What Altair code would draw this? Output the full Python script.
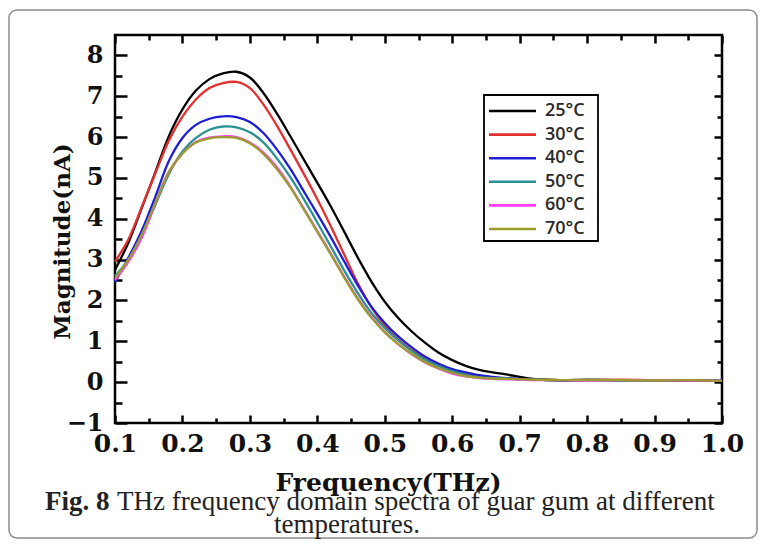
import altair as alt
import pandas as pd

# ---------------- data ----------------
freq = [0.10, 0.12, 0.14, 0.16, 0.18, 0.20, 0.22, 0.24, 0.26, 0.28,
        0.30, 0.32, 0.34, 0.36, 0.38, 0.40, 0.42, 0.44, 0.46, 0.48,
        0.50, 0.52, 0.54, 0.56, 0.58, 0.60, 0.62, 0.64, 0.66, 0.68,
        0.70, 0.72, 0.76, 0.80, 0.85, 0.90, 0.95, 1.00]

series_labels = ["25°C", "30°C", "40°C", "50°C", "60°C", "70°C"]
series_colors = ["#000000", "#e3302e", "#1e1ed8", "#2b9292", "#ff3cff", "#9c9c2a"]

mag_25 = [2.75, 3.42, 4.28, 5.15, 6.03, 6.68, 7.14, 7.42, 7.56, 7.60,
          7.46, 7.08, 6.58, 6.02, 5.45, 4.88, 4.30, 3.68, 3.05, 2.47,
          1.97, 1.57, 1.24, 0.96, 0.72, 0.54, 0.40, 0.30, 0.24, 0.19,
          0.13, 0.08, 0.05, 0.06, 0.05, 0.05, 0.04, 0.03]
mag_30 = [2.95, 3.50, 4.30, 5.12, 5.92, 6.50, 6.92, 7.20, 7.32, 7.35,
          7.20, 6.80, 6.28, 5.70, 5.10, 4.48, 3.82, 3.12, 2.42, 1.84,
          1.39, 1.04, 0.78, 0.57, 0.40, 0.28, 0.19, 0.14, 0.11, 0.09,
          0.07, 0.06, 0.05, 0.05, 0.06, 0.05, 0.05, 0.03]
mag_40 = [2.45, 3.05, 3.72, 4.55, 5.42, 5.98, 6.30, 6.45, 6.51, 6.49,
          6.37, 6.10, 5.70, 5.22, 4.67, 4.12, 3.55, 2.95, 2.37, 1.85,
          1.45, 1.12, 0.85, 0.62, 0.45, 0.32, 0.24, 0.17, 0.13, 0.10,
          0.08, 0.06, 0.04, 0.05, 0.05, 0.04, 0.05, 0.03]
mag_50 = [2.60, 3.00, 3.60, 4.35, 5.10, 5.65, 5.98, 6.18, 6.26, 6.24,
          6.12, 5.87, 5.48, 5.02, 4.48, 3.91, 3.32, 2.73, 2.18, 1.70,
          1.33, 1.02, 0.76, 0.55, 0.39, 0.27, 0.18, 0.12, 0.10, 0.09,
          0.07, 0.06, 0.05, 0.05, 0.04, 0.05, 0.05, 0.03]
mag_60 = [2.50, 2.95, 3.55, 4.38, 5.15, 5.60, 5.88, 5.99, 6.02, 6.00,
          5.87, 5.62, 5.26, 4.79, 4.25, 3.70, 3.15, 2.58, 2.05, 1.60,
          1.23, 0.93, 0.68, 0.48, 0.33, 0.21, 0.14, 0.10, 0.08, 0.07,
          0.06, 0.05, 0.05, 0.04, 0.05, 0.05, 0.04, 0.03]
mag_70 = [2.55, 3.00, 3.62, 4.40, 5.15, 5.60, 5.87, 5.97, 6.00, 5.98,
          5.85, 5.59, 5.22, 4.77, 4.23, 3.68, 3.13, 2.56, 2.03, 1.58,
          1.22, 0.93, 0.69, 0.49, 0.34, 0.23, 0.15, 0.11, 0.09, 0.08,
          0.07, 0.06, 0.05, 0.05, 0.05, 0.04, 0.05, 0.03]

x_ticks = [0.1, 0.2, 0.3, 0.4, 0.5, 0.6, 0.7, 0.8, 0.9, 1.0]
x_minor = [0.15, 0.25, 0.35, 0.45, 0.55, 0.65, 0.75, 0.85, 0.95]
y_ticks = [-1, 0, 1, 2, 3, 4, 5, 6, 7, 8]
y_minor = [-0.5, 0.5, 1.5, 2.5, 3.5, 4.5, 5.5, 6.5, 7.5]

x_title = "Frequency(THz)"
y_title = "Magnitude(nA)"
caption_bold = "Fig. 8"
caption_line1 = "THz frequency domain spectra of guar gum at different"
caption_line2 = "temperatures."

# ---------------- tables ----------------
rows = []
for lab, vals in zip(series_labels, [mag_25, mag_30, mag_40, mag_50, mag_60, mag_70]):
    for f, v in zip(freq, vals):
        rows.append({"Frequency": f, "Magnitude": v, "Temperature": lab})
df = pd.DataFrame(rows)
legend_df = pd.DataFrame({"Temperature": series_labels})
one = pd.DataFrame({"k": [0]})

W, H = 607, 388
SERIF = "DejaVu Serif"
xs = alt.Scale(domain=[0.1, 1.0], nice=False, zero=False)
ys = alt.Scale(domain=[-1, 8.5], nice=False, zero=False)
color = alt.Color("Temperature:N",
                  scale=alt.Scale(domain=series_labels, range=series_colors),
                  legend=None)

x_main = alt.X("Frequency:Q", scale=xs, axis=alt.Axis(
    orient="bottom", values=x_ticks, format=".1f", ticks=False, domain=False, grid=False,
    labelFont=SERIF, labelFontSize=25, labelFontWeight="bold", labelColor="#111",
    labelPadding=8, labelFlush=False, labelOverlap=False, labelBound=False,
    title=x_title, titleFont=SERIF, titleFontSize=25, titleFontWeight="bold",
    titleColor="#111", titleX=273, titleY=59, titleBaseline="middle", titleAlign="center"))
y_main = alt.Y("Magnitude:Q", scale=ys, axis=alt.Axis(
    orient="left", values=y_ticks, format="d", ticks=False, domain=False, grid=False,
    labelFont=SERIF, labelFontSize=24, labelFontWeight="bold", labelColor="#111",
    labelPadding=12, labelOverlap=False, labelFlush=False, labelBound=False,
    title=y_title, titleFont=SERIF, titleFontSize=23, titleFontWeight="bold",
    titleColor="#111", titleX=-53, titleY=206, titleAngle=270,
    titleBaseline="middle", titleAlign="center"))

lines = alt.Chart(df).mark_line(strokeWidth=2.3, interpolate="catmull-rom").encode(
    x=x_main, y=y_main, color=color, order=alt.Order("Temperature:N"))


def tick_axis(orient, offset, values, size):
    return alt.Axis(orient=orient, offset=offset, values=values, labels=False,
                    domain=False, grid=False, ticks=True, tickSize=size,
                    tickWidth=2.5, tickColor="black", title=None)


def tick_layer(xo, xv, xsz, yo, yv, ysz):
    xoff = -H
    yoff = -W
    return alt.Chart(df).mark_point(opacity=0).encode(
        x=alt.X("Frequency:Q", scale=xs, axis=tick_axis(xo, xoff, xv, xsz)),
        y=alt.Y("Magnitude:Q", scale=ys, axis=tick_axis(yo, yoff, yv, ysz)))


t_bottom_left_major = tick_layer("top", x_ticks, 8, "right", y_ticks, 12)
t_bottom_left_minor = tick_layer("top", x_minor, 5, "right", y_minor, 7)
t_top_right_major = tick_layer("bottom", x_ticks, 8, "left", y_ticks, 8)
t_top_right_minor = tick_layer("bottom", x_minor, 5, "left", y_minor, 5)

main = alt.layer(lines, t_bottom_left_major, t_bottom_left_minor,
                 t_top_right_major, t_top_right_minor).resolve_axis(
    x="independent", y="independent")

# ---------------- legend ----------------
ly = alt.Y("Temperature:N", scale=alt.Scale(type="point", domain=series_labels,
                                           range=[76, 194], padding=0), axis=None)
box = alt.Chart(one).mark_rect(fill="white", stroke="black", strokeWidth=1.8).encode(
    x=alt.value(369), x2=alt.value(483), y=alt.value(60), y2=alt.value(206))
leg_lines = alt.Chart(legend_df).mark_rule(strokeWidth=2.6).encode(
    x=alt.value(374), x2=alt.value(421), y=ly, color=color)
leg_text = alt.Chart(legend_df).mark_text(
    align="left", baseline="middle", font="Open Sans", fontSize=18, fontWeight=600,
    color="#2a2a2a").encode(
    x=alt.value(430), y=ly, text="Temperature:N")
legend = alt.layer(box, leg_lines, leg_text)

# ---------------- frame / captions ----------------
border = alt.Chart(one).mark_rect(fillOpacity=0, stroke="#8c8c8c", strokeWidth=1.5,
                                  cornerRadius=8).encode(
    x=alt.value(-106), x2=alt.value(642), y=alt.value(-25), y2=alt.value(503))
cap_b = alt.Chart(one).mark_text(align="left", baseline="middle", font="Liberation Serif",
                                 fontSize=27, fontWeight="bold", color="#222").encode(
    x=alt.value(-70), y=alt.value(467), text=alt.value(caption_bold))
cap_1 = alt.Chart(one).mark_text(align="left", baseline="middle", font="Liberation Serif",
                                 fontSize=27, color="#222").encode(
    x=alt.value(2), y=alt.value(467), text=alt.value(caption_line1))
cap_2 = alt.Chart(one).mark_text(align="center", baseline="middle", font="Liberation Serif",
                                 fontSize=27, color="#222").encode(
    x=alt.value(232), y=alt.value(490), text=alt.value(caption_line2))

chart = alt.layer(border, main, legend, cap_b, cap_1, cap_2).resolve_scale(
    y="independent").properties(
    width=W, height=H,
    autosize=alt.AutoSizeParams(type="none"),
    padding={"left": 107, "top": 27, "right": 36, "bottom": 117},
    background="white",
).configure_view(stroke="black", strokeWidth=2.5)

chart.save("out.html", embed_options={"renderer": "svg", "actions": False})
